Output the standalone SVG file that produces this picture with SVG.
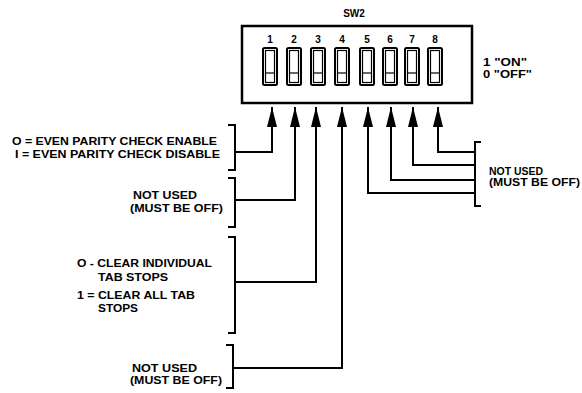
<svg xmlns="http://www.w3.org/2000/svg" width="582" height="393" viewBox="0 0 582 393">
<style>
text{font-family:"Liberation Sans","DejaVu Sans",sans-serif;font-weight:bold;fill:#000;font-size:10px}
.n{font-size:10px;text-anchor:middle}
.c{fill:none;stroke:#000;stroke-width:2}
.b{fill:none;stroke:#000;stroke-width:2}
.sw{fill:#fff;stroke:#000;stroke-width:2}
.swi{fill:none;stroke:#000;stroke-width:1.2}
</style>
<defs>
<marker id="ah" viewBox="0 0 20 10" refX="20" refY="5" markerWidth="20" markerHeight="10" markerUnits="userSpaceOnUse" orient="auto">
<path d="M0,0 L20,5 L0,10 z" fill="#000"/>
</marker>
<g id="swt">
<rect x="-7" y="48" width="14" height="37" rx="1.5" class="sw"/>
<rect x="-4.5" y="50.5" width="9" height="32" class="swi"/>
<line x1="-5" y1="73" x2="5" y2="73" class="swi"/>
</g>
</defs>
<g id="sw2">
<rect x="242" y="26" width="230" height="77" fill="none" stroke="#000" stroke-width="2.5"/>
<text x="354" y="17" class="n">SW2</text>
<text x="270" y="43" class="n">1</text>
<text x="294" y="43" class="n">2</text>
<text x="318" y="43" class="n">3</text>
<text x="342" y="43" class="n">4</text>
<text x="367" y="43" class="n">5</text>
<text x="390" y="43" class="n">6</text>
<text x="412" y="43" class="n">7</text>
<text x="435" y="43" class="n">8</text>
<use href="#swt" x="270"/>
<use href="#swt" x="294"/>
<use href="#swt" x="318"/>
<use href="#swt" x="342"/>
<use href="#swt" x="367"/>
<use href="#swt" x="390"/>
<use href="#swt" x="412"/>
<use href="#swt" x="435"/>
</g>
<g id="legend">
<text x="483" y="66" textLength="44" lengthAdjust="spacingAndGlyphs">1 "ON"</text>
<text x="483" y="78" textLength="49" lengthAdjust="spacingAndGlyphs">0 "OFF"</text>
</g>
<g id="connectors">
<path class="c" d="M234,152 H272 V107" marker-end="url(#ah)"/>
<path class="c" d="M234,200 H295 V107" marker-end="url(#ah)"/>
<path class="c" d="M234,282 H316 V107" marker-end="url(#ah)"/>
<path class="c" d="M233,368 H342 V107" marker-end="url(#ah)"/>
<path class="c" d="M475,193 H368 V107" marker-end="url(#ah)"/>
<path class="c" d="M475,180 H391 V107" marker-end="url(#ah)"/>
<path class="c" d="M475,165 H413 V107" marker-end="url(#ah)"/>
<path class="c" d="M475,152 H438 V107" marker-end="url(#ah)"/>
</g>
<g id="parity">
<path class="b" d="M228,125 H235 V170 H228"/>
<text x="12" y="145" textLength="205" lengthAdjust="spacingAndGlyphs">O = EVEN PARITY CHECK ENABLE</text>
<text x="15" y="158" textLength="205" lengthAdjust="spacingAndGlyphs">I = EVEN PARITY CHECK DISABLE</text>
</g>
<g id="notused1">
<path class="b" d="M228,178 H235 V227 H228"/>
<text x="133" y="199" textLength="64" lengthAdjust="spacingAndGlyphs">NOT USED</text>
<text x="130" y="212" textLength="93" lengthAdjust="spacingAndGlyphs">(MUST BE OFF)</text>
</g>
<g id="tabstops">
<path class="b" d="M228,237 H235 V333 H228"/>
<text x="77" y="267" textLength="135" lengthAdjust="spacingAndGlyphs">O - CLEAR INDIVIDUAL</text>
<text x="98" y="281" textLength="70" lengthAdjust="spacingAndGlyphs">TAB STOPS</text>
<text x="77" y="299" textLength="118" lengthAdjust="spacingAndGlyphs">1 = CLEAR ALL TAB</text>
<text x="98" y="312" textLength="40" lengthAdjust="spacingAndGlyphs">STOPS</text>
</g>
<g id="notused2">
<path class="b" d="M226,345 H233 V388 H226"/>
<text x="132" y="372" textLength="65" lengthAdjust="spacingAndGlyphs">NOT USED</text>
<text x="130" y="384" textLength="92" lengthAdjust="spacingAndGlyphs">(MUST BE OFF)</text>
</g>
<g id="notused3">
<path class="b" d="M481,142 H475 V206 H481"/>
<text x="489" y="175" textLength="54" lengthAdjust="spacingAndGlyphs">NOT USED</text>
<text x="489" y="186" textLength="91" lengthAdjust="spacingAndGlyphs">(MUST BE OFF)</text>
</g>
</svg>
